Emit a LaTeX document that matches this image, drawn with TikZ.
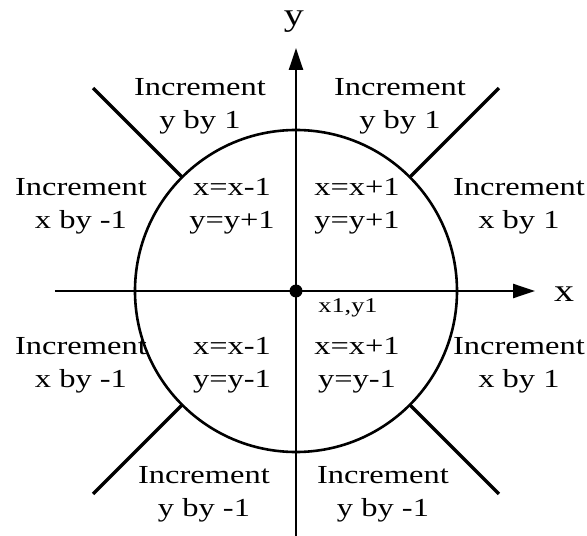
\documentclass[tikz,border=0pt]{standalone}
\usepackage{fontspec}
\setmainfont{Liberation Serif}
\usetikzlibrary{arrows.meta}

\begin{document}
\begin{tikzpicture}[x=1pt,y=1pt,
    region/.style={align=center,inner sep=0pt,xscale=1.25,font=\fontsize{26}{33}\selectfont},
    axis/.style={line width=2.4pt,-{Triangle[length=22pt,width=14pt]}},
    spoke/.style={line width=3.4pt},
    origin/.style={circle,fill=black,minimum size=13pt,inner sep=0pt}]

\useasboundingbox (-296,-245) rectangle (291,291);

% Axes
\coordinate (xl) at (-241,0);
\coordinate (xr) at (239,0);
\coordinate (yb) at (0,-245);
\coordinate (yt) at (0,243);
\draw[axis] (xl) -- (xr);
\draw[axis] (yb) -- (yt);
\node[region,font=\fontsize{32}{32}\selectfont] (ylab) at (-2,269) {y};
\node[region,font=\fontsize{32}{32}\selectfont] (xlab) at (268,-3) {x};

% Circle and start point
\draw[line width=2.6pt] (0,0) circle (161);
\node[origin] (p1) at (0,0) {};
\node[region,font=\fontsize{21}{21}\selectfont] (p1lab) at (52,-17) {x1,y1};

% Octant borders
\foreach \a in {45,135,225,315} {
  \coordinate (in\a) at (\a:161);
  \coordinate (out\a) at (\a:287);
  \draw[spoke] (in\a) -- (out\a);
}

% Outside labels
\node[region] (oul) at (-96,185) {Increment\\y by 1};
\node[region] (our) at (104,185) {Increment\\y by 1};
\node[region] (olu) at (-215,85) {Increment\\x by -1};
\node[region] (oru) at (223,85) {Increment\\x by 1};
\node[region] (oll) at (-215,-74) {Increment\\x by -1};
\node[region] (orl) at (223,-74) {Increment\\x by 1};
\node[region] (obl) at (-92,-203) {Increment\\y by -1};
\node[region] (obr) at (87,-203) {Increment\\y by -1};

% Inside labels
\node[region] (iul) at (-64,85) {x=x-1\\y=y+1};
\node[region] (iur) at (61,85) {x=x+1\\y=y+1};
\node[region] (ill) at (-64,-74) {x=x-1\\y=y-1};
\node[region] (ilr) at (61,-74) {x=x+1\\y=y-1};

\end{tikzpicture}
\end{document}
